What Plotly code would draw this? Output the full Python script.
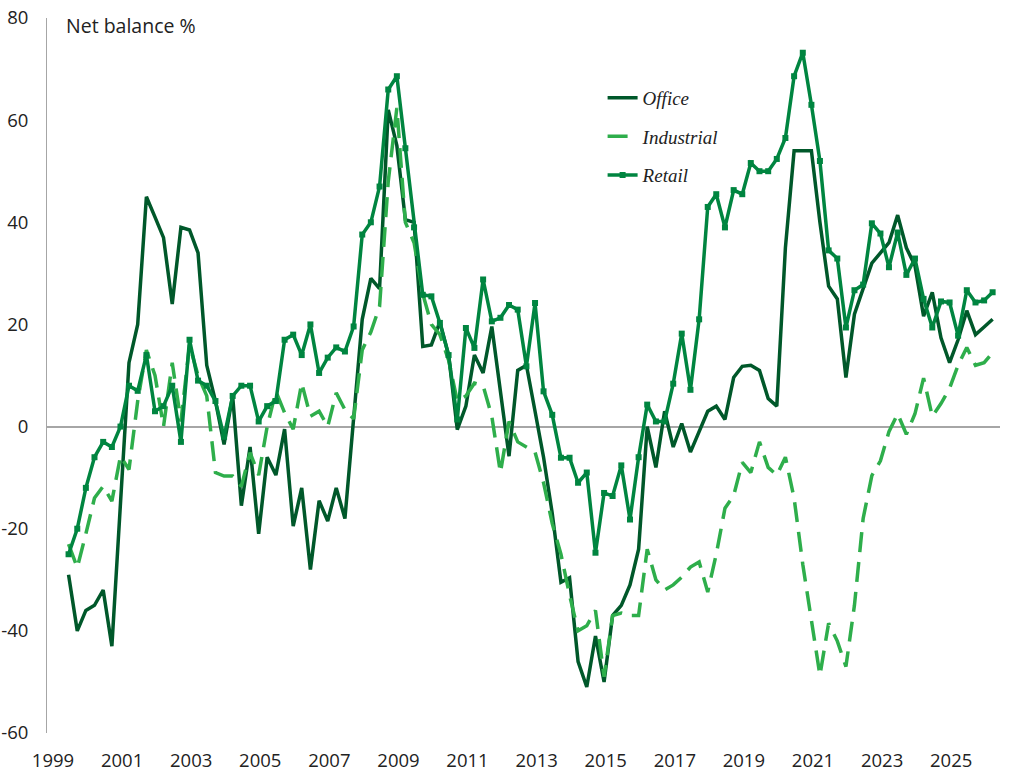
import pandas as pd
import plotly.graph_objects as go

# quarterly net balances, Q2 1999 onwards
office = [
    -29, -40, -36, -35, -32, -43, -15, 12.5, 20, 45,
    41, 37, 24, 39, 38.5, 34, 12, 5, -3.5, 6,
    -15.5, -4, -21, -6, -9.5, -0.5, -19.5, -12, -28, -14.5,
    -18.5, -12, -18, 2, 21, 29, 27, 62, 55, 40.5,
    40, 15.7, 16, 20.5, 14, -0.6, 4, 14, 10.5, 19.6,
    7, -5.8, 11, 12, 3, -6, -17, -30.5, -29.6, -46,
    -51, -41, -50, -37, -35, -31, -24, 0, -8, 3,
    -4, 0.6, -5, -1, 3, 4, 1.4, 9.6, 11.8, 12,
    11, 5.5, 4, 35, 54, 54, 54, 40, 27.5, 25,
    9.6, 22, 27, 32, 34, 36, 41.4, 35, 31.5, 21.6,
    26.3, 17.4, 12.5, 17, 22.7, 18, 19.5, 21,
]

industrial = [
    -23, -27.6, -21, -14, -11.7, -14.6, -5.8, -8.4, 5, 15,
    10, 0, 12.5, 1, 16, 10, 6, -9, -9.7, -9.7,
    -11.7, -5.1, -9.5, 0, 6.9, 2.7, -0.5, 8.5, 2, 3,
    0, 6.6, 3.3, 1.5, 15, 18.5, 23.5, 48, 62.4, 40,
    36, 26, 20, 18, 13, 5, 6, 8.5, 8, 2,
    -9, 1, -3, -4, -5, -11, -19, -25, -33, -40,
    -39, -36, -49, -37, -36.5, -37, -37, -24, -30, -32,
    -31, -29.5, -27.5, -26.5, -32.4, -25, -16, -13.5, -7, -9,
    -3, -8, -9.5, -6, -14, -27, -38, -48.7, -38.5, -42,
    -47, -35, -18, -9.6, -6.7, -1, 2.5, -1.5, 2.5, 9.5,
    2, 4.5, 7.5, 12, 15.5, 12, 12.5, 14.5,
]

retail = [
    -25, -20, -12, -6, -3, -4, 0, 8, 7, 14,
    3, 4, 8, -3, 17, 9, 8, 5, -2, 6,
    8, 8, 1, 4, 5, 17, 18, 14, 20, 10.5,
    13.5, 15.5, 14.7, 19.6, 37.6, 40, 47, 66, 68.6, 54.5,
    39, 25.8, 25.5, 20.3, 14, 1.4, 19.3, 15.4, 28.8, 20.6,
    21.3, 23.8, 22.9, 11.8, 24.2, 6.9, 2.3, -6.1, -6.1, -11,
    -9, -24.7, -13, -13.6, -7.6, -18.2, -6, 4.3, 1, 1,
    8.4, 18.2, 7.2, 21, 43, 45.5, 39, 46.3, 45.5, 51.6,
    50, 50, 52.4, 56.5, 68.6, 73.2, 63, 52, 34.5, 32.9,
    19.4, 26.7, 27.8, 39.8, 37.8, 31.2, 38, 29.7, 32.9, 25,
    19.4, 24.5, 24.3, 17.8, 26.7, 24.3, 24.7, 26.3,
]

dates = pd.date_range("1999-06-01", periods=len(office), freq="3MS") + pd.Timedelta(days=14)

tick_years = list(range(1999, 2026, 2))
y_ticks = [-60, -40, -20, 0, 20, 40, 60, 80]

fig = go.Figure()

fig.add_trace(go.Scatter(
    x=dates, y=office, name="Office", mode="lines", legendgroup="o",
    line=dict(color="#00582a", width=3.5),
))
fig.add_trace(go.Scatter(
    x=dates, y=industrial, name="Industrial", mode="lines", legendgroup="i",
    line=dict(color="#2eae4b", width=3.5, dash="20px,10px"),
))
fig.add_trace(go.Scatter(
    x=dates, y=retail, name="Retail", mode="lines+markers", legendgroup="r",
    line=dict(color="#008540", width=3.5),
    marker=dict(symbol="square", size=6, color="#008540"),
))

fig.add_annotation(
    text="Net balance %", xref="paper", yref="paper", x=0.018, y=0.99,
    xanchor="left", yanchor="middle", showarrow=False,
    font=dict(family="Open Sans", size=19.5, color="#222222"),
)

fig.update_layout(
    width=1024, height=775,
    margin=dict(l=47, r=24, t=18, b=42),
    paper_bgcolor="white", plot_bgcolor="white",
    font=dict(family="Open Sans", size=18.5, color="#222222"),
    legend=dict(
        x=0.583, y=0.915, xanchor="left", yanchor="top",
        bgcolor="rgba(0,0,0,0)", tracegroupgap=11,
        font=dict(family="Liberation Serif", size=19, style="italic", color="#222222"),
    ),
    xaxis=dict(
        range=["1998-10-30", "2026-06-01"],
        tickvals=[pd.Timestamp(f"{y}-01-01") for y in tick_years],
        ticktext=[str(y) for y in tick_years],
        showgrid=False, showline=False, zeroline=False, ticks="",
        ticklabelstandoff=14, automargin=False,
    ),
    yaxis=dict(
        range=[-60, 80],
        tickvals=y_ticks, ticktext=[str(v) for v in y_ticks],
        showgrid=False, showline=True, linecolor="#a6a6a6", linewidth=1,
        zeroline=True, zerolinecolor="#a6a6a6", zerolinewidth=1.5,
        ticks="", ticklabelstandoff=14, automargin=False,
    ),
)

# drop the default body margin so the figure fills the window exactly
fig.write_html(
    "out.html",
    config={"displayModeBar": False},
    post_script="document.body.style.margin='0px';",
)
